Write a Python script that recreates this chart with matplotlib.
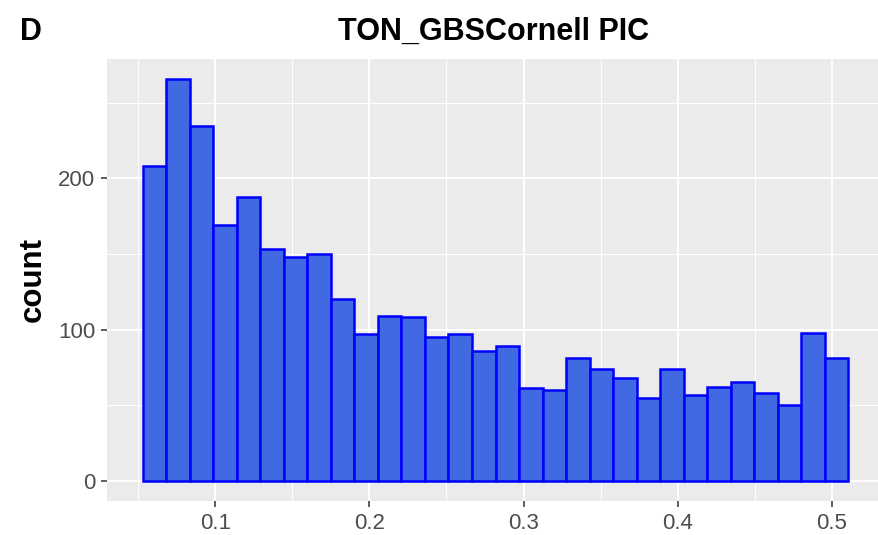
import matplotlib
matplotlib.use("Agg")
import matplotlib.pyplot as plt
import numpy as np

# Histogram data (30 bins)
bin_start = 0.05285
bin_width = 0.015264
counts = [208, 266, 235, 169, 188, 153, 148, 150, 120, 97,
          109, 108, 95, 97, 86, 89, 61, 60, 81, 74,
          68, 55, 74, 57, 62, 65, 58, 50, 98, 81]
x_ticks = [0.1, 0.2, 0.3, 0.4, 0.5]
x_tick_labels = ["0.1", "0.2", "0.3", "0.4", "0.5"]
y_ticks = [0, 100, 200]
title = "TON_GBSCornell PIC"
panel_tag = "D"
y_label = "count"

plt.rcParams['font.family'] = ['Liberation Sans', 'DejaVu Sans']

fig = plt.figure(figsize=(8.79, 5.35), dpi=100)
W, H = 879, 535
left_px, right_px, top_px, bottom_px = 107.3, 879.0, 58.7, 500.7
ax = fig.add_axes([left_px / W, 1 - bottom_px / H, (right_px - left_px) / W, (bottom_px - top_px) / H])

edges = bin_start + bin_width * np.arange(len(counts))
ax.bar(edges, counts, width=bin_width, align='edge', color='#4169E1',
       edgecolor='#0000FF', linewidth=1.8, zorder=3)

xmin = bin_start
xmax = bin_start + bin_width * len(counts)
xr = xmax - xmin
full_right = xmax + 0.05 * xr
full_left = xmin - 0.05 * xr
# the panel is cut at the right figure edge
visible_right = full_left + (full_right - full_left) * (right_px - left_px) / (883.7 - left_px)
ax.set_xlim(full_left, visible_right)
ymax = max(counts)
ax.set_ylim(-0.05 * ymax, 1.05 * ymax)

ax.set_facecolor('#EBEBEB')
for s in ax.spines.values():
    s.set_visible(False)

ax.set_xticks(x_ticks)
ax.set_xticklabels(x_tick_labels)
ax.set_yticks(y_ticks)
ax.set_xticks([0.05, 0.15, 0.25, 0.35, 0.45], minor=True)
ax.set_yticks([50, 150, 250], minor=True)
ax.grid(which='major', color='white', linewidth=1.4, zorder=0)
ax.grid(which='minor', color='white', linewidth=0.7, zorder=0)
ax.set_axisbelow(True)
ax.tick_params(which='major', length=4.3, width=1.1, color='#333333',
               labelcolor='#4D4D4D', labelsize=16, pad=4.5)
ax.tick_params(which='minor', length=0)

ax.set_ylabel(y_label, fontsize=22.5, fontweight='bold', labelpad=7)
ax.set_title(title, fontsize=22, fontweight='bold', pad=13.5)
fig.text(20 / W, 1 - 40 / H, panel_tag, fontsize=22, fontweight='bold', ha='left', va='baseline')

fig.savefig("out.png", dpi=100)
